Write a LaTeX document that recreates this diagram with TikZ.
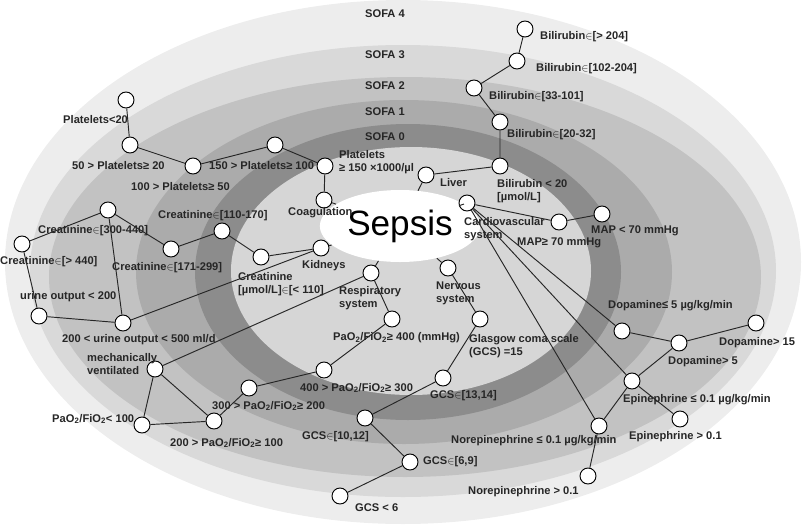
\documentclass[tikz,border=0pt]{standalone}
\usepackage{fontspec}
\setmainfont{Liberation Sans}
\usetikzlibrary{shapes.geometric}
\tikzset{
  st/.style={circle, draw=black, thick, fill=white, minimum size=0.48cm, inner sep=0pt},
  lab/.style={anchor=west, align=left, inner sep=0pt, font=\bfseries\fontsize{9.5}{11}\selectfont, text=black!85},
  link/.style={thick, black!85}
}
\newcommand{\tsub}[1]{\textsubscript{#1}}
\begin{document}
\begin{tikzpicture}[x=0.03cm, y=-0.03cm]
        \useasboundingbox (0,0) rectangle (806,524);
        % SOFA rings
        \fill[black!7]  (403,262) ellipse (398 and 262);
        \fill[black!15] (403,271) ellipse (373 and 226);
        \fill[black!24] (405,277) ellipse (356 and 200);
        \fill[black!33] (404,272) ellipse (268 and 172);
        \fill[black!45] (408,272) ellipse (213 and 148);
        \fill[black!16] (411,271) ellipse (180 and 124);
        \node[lab, anchor=center] (s4) at (385,14) {SOFA 4};
        \node[lab, anchor=center] (s3) at (385,55) {SOFA 3};
        \node[lab, anchor=center] (s2) at (385,86) {SOFA 2};
        \node[lab, anchor=center] (s1) at (385,112) {SOFA 1};
        \node[lab, anchor=center] (s0) at (385,137) {SOFA 0};

        \node[ellipse, fill=white, minimum width=2.7cm, minimum height=2.16cm,
              font=\fontsize{30}{32}\selectfont] (sepsis) at (400,226) {Sepsis};

        % liver
        \node[st] (liv) at (426,175) {};
        \node[st] (bil0) at (500,166) {};
        \node[st] (bil1) at (500,122) {};
        \node[st] (bil2) at (474,88) {};
        \node[st] (bil3) at (517,61) {};
        \node[st] (bil4) at (525,29) {};
        \node[lab] at (440,183) {Liver};
        \node[lab] at (497,191) {Bilirubin < 20\\{}[µmol/L]};
        \node[lab] at (507,135) {Bilirubin$\in$[20-32]};
        \node[lab] at (489,97) {Bilirubin$\in$[33-101]};
        \node[lab] at (536,69) {Bilirubin$\in$[102-204]};
        \node[lab] at (540,37) {Bilirubin$\in$[> 204]};
        \draw[link] (sepsis) -- (liv) -- (bil0) -- (bil1) -- (bil2) -- (bil3) -- (bil4);

        % coagulation
        \node[st] (coa) at (324,200) {};
        \node[st] (pl0) at (325,166) {};
        \node[st] (pl1) at (275,145) {};
        \node[st] (pl2) at (193,166) {};
        \node[st] (pl3) at (130,145) {};
        \node[st] (pl4) at (126,100) {};
        \node[lab] at (288,213) {Coagulation};
        \node[lab] at (339,162) {Platelets\\≥ 150 ×1000/µl};
        \node[lab] at (209,166) {150 > Platelets≥ 100};
        \node[lab] at (131,187) {100 > Platelets≥ 50};
        \node[lab] at (72,166) {50 > Platelets≥ 20};
        \node[lab] at (63,120) {Platelets<20};
        \draw[link] (sepsis) -- (coa) -- (pl0) -- (pl1) -- (pl2) -- (pl3) -- (pl4);

        % kidneys
        \node[st] (kid) at (321,248) {};
        \node[st] (cr0) at (261,257) {};
        \node[st] (cr1) at (222,231) {};
        \node[st] (cr2) at (171,249) {};
        \node[st] (cr3) at (108,210) {};
        \node[st] (cr4) at (22,244) {};
        \node[st] (ur1) at (39,316) {};
        \node[st] (ur0) at (123,323) {};
        \node[lab] at (302,266) {Kidneys};
        \node[lab] at (238,284) {Creatinine\\{}[µmol/L]$\in$[< 110]};
        \node[lab] at (158,216) {Creatinine$\in$[110-170]};
        \node[lab] at (112,268) {Creatinine$\in$[171-299]};
        \node[lab] at (38,231) {Creatinine$\in$[300-440]};
        \node[lab] at (0,262) {Creatinine$\in$[> 440]};
        \node[lab] at (20,297) {urine output < 200};
        \node[lab] at (62,340) {200 < urine output < 500 ml/d};
        \draw[link] (sepsis) -- (kid) -- (cr0) -- (cr1) -- (cr2) -- (cr3) -- (cr4) -- (ur1) -- (ur0) -- (cr3);
        \draw[link] (kid) -- (ur0);

        % respiratory
        \node[st] (res) at (371,273) {};
        \node[st] (pa0) at (392,319) {};
        \node[st] (pa1) at (324,370) {};
        \node[st] (pa2) at (249,388) {};
        \node[st] (pa3) at (214,421) {};
        \node[st] (pa4) at (142,425) {};
        \node[st] (mv) at (155,369) {};
        \node[lab] at (339,298) {Respiratory\\system};
        \node[lab] at (333,338) {PaO\tsub{2}/FiO\tsub{2}≥ 400 (mmHg)};
        \node[lab] at (300,388) {400 > PaO\tsub{2}/FiO\tsub{2}≥ 300};
        \node[lab] at (212,406) {300 > PaO\tsub{2}/FiO\tsub{2}≥ 200};
        \node[lab] at (170,443) {200 > PaO\tsub{2}/FiO\tsub{2}≥ 100};
        \node[lab] at (52,419) {PaO\tsub{2}/FiO\tsub{2}< 100};
        \node[lab] at (87,364) {mechanically\\ventilated};
        \draw[link] (sepsis) -- (res) -- (pa0) -- (pa1) -- (pa2) -- (pa3) -- (pa4) -- (mv) -- (pa3);
        \draw[link] (mv) -- (res);

        % nervous
        \node[st] (ner) at (448,268) {};
        \node[st] (gc0) at (480,319) {};
        \node[st] (gc1) at (443,378) {};
        \node[st] (gc2) at (365,418) {};
        \node[st] (gc3) at (410,462) {};
        \node[st] (gc4) at (340,496) {};
        \node[lab] at (436,293) {Nervous\\system};
        \node[lab] at (469,346) {Glasgow coma scale\\(GCS) =15};
        \node[lab] at (430,396) {GCS$\in$[13,14]};
        \node[lab] at (302,437) {GCS$\in$[10,12]};
        \node[lab] at (423,462) {GCS$\in$[6,9]};
        \node[lab] at (355,508) {GCS < 6};
        \draw[link] (sepsis) -- (ner) -- (gc0) -- (gc1) -- (gc2) -- (gc3) -- (gc4);

        % cardiovascular
        \node[st] (car) at (467,203) {};
        \node[st] (map0) at (559,222) {};
        \node[st] (map1) at (602,214) {};
        \node[st] (do0) at (622,331) {};
        \node[st] (do1) at (679,343) {};
        \node[st] (do2) at (756,323) {};
        \node[st] (ep0) at (632,381) {};
        \node[st] (ep1) at (680,419) {};
        \node[st] (ne0) at (599,426) {};
        \node[st] (ne1) at (588,476) {};
        \node[lab] at (464,229) {Cardiovascular\\system};
        \node[lab] at (517,243) {MAP≥ 70 mmHg};
        \node[lab] at (591,231) {MAP < 70 mmHg};
        \node[lab] at (608,306) {Dopamine≤ 5 µg/kg/min};
        \node[lab] at (668,362) {Dopamine> 5};
        \node[lab] at (719,343) {Dopamine> 15};
        \node[lab] at (623,400) {Epinephrine ≤ 0.1 µg/kg/min};
        \node[lab] at (629,437) {Epinephrine > 0.1};
        \node[lab] at (451,441) {Norepinephrine ≤ 0.1 µg/kg/min};
        \node[lab] at (468,492) {Norepinephrine > 0.1};
        \draw[link] (sepsis) -- (car) -- (map0) -- (map1);
        \draw[link] (car) -- (do0) -- (do1) -- (do2);
        \draw[link] (do1) -- (ep0) -- (ne0) -- (ne1);
        \draw[link] (ep0) -- (ep1);
        \draw[link] (car) -- (ep0);
        \draw[link] (car) -- (ne0);
\end{tikzpicture}
\end{document}
